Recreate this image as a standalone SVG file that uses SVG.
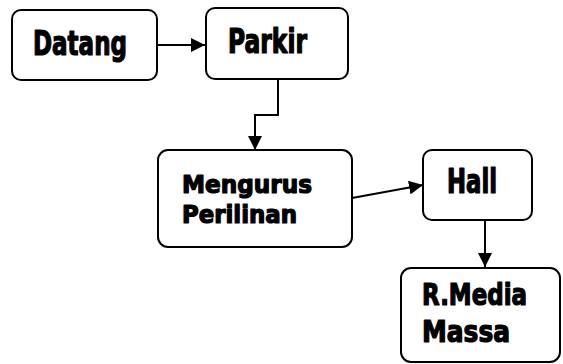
<svg xmlns="http://www.w3.org/2000/svg" width="563" height="364" viewBox="0 0 563 364">
  <style>
    .box { fill: #fff; stroke: #000; stroke-width: 2; }
    .lbl { font-family: "DejaVu Sans Condensed", "DejaVu Sans", "Liberation Sans", sans-serif; font-weight: bold; fill: #000; stroke: #000; stroke-width: 1.2; stroke-linejoin: round; }
    .big { font-size: 33px; }
    .two { font-size: 25.5px; }
    .mid { font-size: 31px; }
    .edge { fill: none; stroke: #000; stroke-width: 2; }
  </style>
  <defs>
    <marker id="head" viewBox="0 0 14 14" refX="14" refY="7" markerWidth="14" markerHeight="14" markerUnits="userSpaceOnUse" orient="auto">
      <path d="M0,0 L14,7 L0,14 Z" fill="#000"/>
    </marker>
  </defs>

  <rect width="563" height="364" fill="#fff"/>

  <g id="connectors">
    <path class="edge" d="M157,45 L205,45" marker-end="url(#head)"/>
    <path class="edge" d="M278,79 L278,115 L255,115 L255,150" marker-end="url(#head)"/>
    <path class="edge" d="M352,198 L423,185" marker-end="url(#head)"/>
    <path class="edge" d="M485,220 L485,267" marker-end="url(#head)"/>
  </g>

  <g id="datang">
    <rect class="box" x="12" y="10" width="145" height="70" rx="9"/>
    <text class="lbl big" x="33" y="55" textLength="94" lengthAdjust="spacingAndGlyphs">Datang</text>
  </g>

  <g id="parkir">
    <rect class="box" x="206" y="8" width="142" height="71" rx="9"/>
    <text class="lbl big" x="228" y="53" textLength="79" lengthAdjust="spacingAndGlyphs">Parkir</text>
  </g>

  <g id="mengurus">
    <rect class="box" x="158" y="150" width="194" height="97" rx="10"/>
    <text class="lbl two" x="182" y="193" textLength="130" lengthAdjust="spacingAndGlyphs">Mengurus</text>
    <text class="lbl two" x="182" y="223" textLength="115" lengthAdjust="spacingAndGlyphs">Perilinan</text>
  </g>

  <g id="hall">
    <rect class="box" x="423" y="150" width="109" height="70" rx="9"/>
    <text class="lbl big" x="447" y="193" textLength="50" lengthAdjust="spacingAndGlyphs">Hall</text>
  </g>

  <g id="media">
    <rect class="box" x="401" y="268" width="159" height="94" rx="10"/>
    <text class="lbl mid" x="422" y="305" textLength="105" lengthAdjust="spacingAndGlyphs">R.Media</text>
    <text class="lbl mid" x="422" y="342" textLength="88" lengthAdjust="spacingAndGlyphs">Massa</text>
  </g>
</svg>
